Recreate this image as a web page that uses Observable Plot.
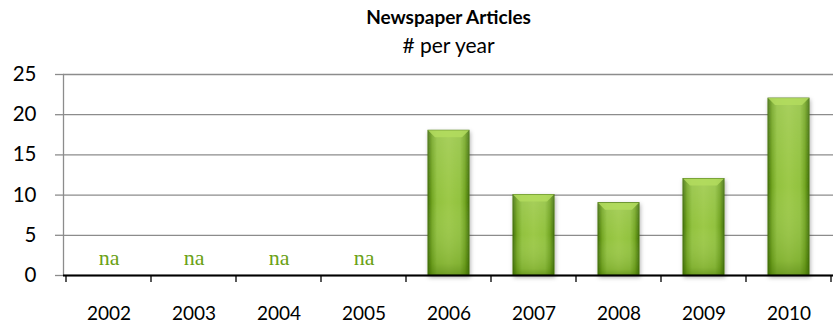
<!DOCTYPE html>
<html>
<head>
<meta charset="utf-8">
<script src="https://cdn.jsdelivr.net/npm/d3@7"></script>
<script src="https://cdn.jsdelivr.net/npm/@observablehq/plot@0.6"></script>
<style>
  html, body { margin: 0; padding: 0; background: #fff; }
  #chart svg { display: block; }
</style>
</head>
<body>
<div id="chart"></div>
<script>
const title = "Newspaper Articles";
const subtitle = "# per year";
const years = ["2002", "2003", "2004", "2005", "2006", "2007", "2008", "2009", "2010"];
const articles = [null, null, null, null, 18, 10, 9, 12, 22];
const yTicks = [0, 5, 10, 15, 20, 25];
const naLabel = "na";

const data = years.map((year, i) => ({year, value: articles[i]}));
const present = data.filter(d => d.value != null);
const missing = data.filter(d => d.value == null);

const font = "Lato, 'Open Sans', sans-serif";

function defs() {
  const svg = d3.create("svg:g");
  const d = svg.append("defs");
  const g = d.append("linearGradient").attr("id", "barGrad").attr("x1", "0").attr("x2", "1").attr("y1", "0").attr("y2", "0");
  [[0, "#457308"], [0.1, "#73a623"], [0.22, "#92c23f"], [0.5, "#9cc947"], [0.78, "#92c23f"], [0.9, "#73a623"], [1, "#457308"]]
    .forEach(([o, c]) => g.append("stop").attr("offset", o).attr("stop-color", c));
  const v = d.append("linearGradient").attr("id", "barShade").attr("x1", "0").attr("x2", "0").attr("y1", "0").attr("y2", "1");
  [[0, "#ffffff", 0.12], [0.5, "#ffffff", 0], [0.92, "#3d6a00", 0.18], [1, "#3d6a00", 0.45]]
    .forEach(([o, c, a]) => v.append("stop").attr("offset", o).attr("stop-color", c).attr("stop-opacity", a));
  const f = d.append("filter").attr("id", "shadow").attr("x", "-20%").attr("y", "-10%").attr("width", "140%").attr("height", "130%");
  f.append("feDropShadow").attr("dx", 1).attr("dy", 2).attr("stdDeviation", 2).attr("flood-color", "#000").attr("flood-opacity", 0.3);
  return svg.node();
}

// Band boundary tick marks below the category axis
function bandTicks(index, scales, values, dimensions) {
  const x = scales.x;
  const step = x.step();
  const bw = x.bandwidth();
  const y0 = dimensions.height - dimensions.marginBottom;
  const g = d3.create("svg:g");
  const xs = years.map(yr => x(yr) - (step - bw) / 2);
  xs.push(x(years[years.length - 1]) + bw + (step - bw) / 2);
  xs.forEach(px => {
    g.append("line").attr("x1", px).attr("x2", px).attr("y1", y0).attr("y2", y0 + 7)
      .attr("stroke", "#000").attr("stroke-width", 1.3);
  });
  return g.node();
}

// Top bevel highlight for each bar
function bevels(index, scales, values, dimensions) {
  const x = scales.x, y = scales.y;
  const bw = x.bandwidth();
  const g = d3.create("svg:g");
  present.forEach(d => {
    const x0 = x(d.year), x1 = x0 + bw, yt = y(d.value);
    const b = 7;
    g.append("path").attr("d", `M${x0},${yt}L${x1},${yt}L${x1 - b},${yt + b}L${x0 + b},${yt + b}Z`)
      .attr("fill", "#b3dc5e").attr("opacity", 0.85);
  });
  return g.node();
}

const plot = Plot.plot({
  width: 833,
  height: 330,
  marginLeft: 63,
  marginRight: 0,
  marginTop: 74,
  marginBottom: 55,
  style: {fontFamily: font, fontSize: "20px", color: "#000", background: "#fff"},
  x: {domain: years, paddingInner: 0.52, paddingOuter: 0.26, label: null},
  y: {domain: [0, 25], label: null},
  marks: [
    defs,
    Plot.text([title], {frameAnchor: "top", dy: -64, fontWeight: "bold", fontSize: 19, fill: "#000"}),
    Plot.text([subtitle], {frameAnchor: "top", dy: -36, fontSize: 21, fill: "#000"}),
    Plot.gridY(yTicks, {stroke: "#8c8c8c", strokeOpacity: 1, strokeWidth: 1.3}),
    Plot.axisY(yTicks, {tickSize: 8, tickPadding: 19, stroke: "#8c8c8c", strokeWidth: 1.3, fontSize: 20.5, fill: "#000", tickFormat: d => d}),
    Plot.frame({anchor: "left", stroke: "#8c8c8c", strokeWidth: 1.3}),
    Plot.axisX({tickSize: 0, tickPadding: 31, fontSize: 19, fill: "#000"}),
    Plot.barY(present, {x: "year", y: "value", fill: "url(#barGrad)", stroke: "#457308", strokeWidth: 1}),
    Plot.barY(present, {x: "year", y: "value", fill: "url(#barShade)"}),
    bevels,
    Plot.text(missing, {x: "year", y: 0, dy: -18, text: () => naLabel, fill: "#6aa114", fontSize: 22, fontFamily: "'Liberation Serif', 'DejaVu Serif', serif"}),
    Plot.ruleY([0], {stroke: "#000", strokeWidth: 2}),
    bandTicks
  ]
});

document.getElementById("chart").appendChild(plot);
plot.querySelectorAll('[aria-label="bar"]')[0]?.setAttribute("filter", "url(#shadow)");
</script>
</body>
</html>
